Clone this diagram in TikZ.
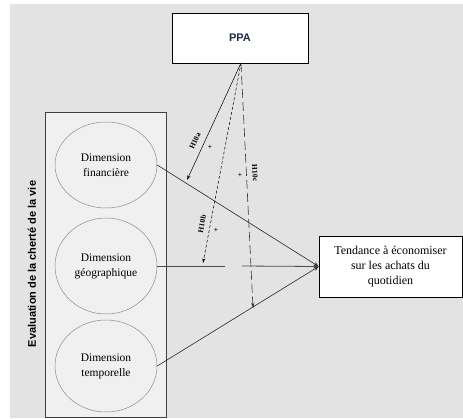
\documentclass[tikz,border=0pt]{standalone}
\usepackage{fontspec}
\setmainfont{Liberation Serif}
\setsansfont{Liberation Sans}
\usetikzlibrary{arrows.meta,shapes.geometric}
\definecolor{bggray}{HTML}{E3E3E3}
\definecolor{panelgray}{HTML}{F0F0F0}
\definecolor{ppablue}{HTML}{1F2A44}
\tikzset{
  boxnode/.style={draw=black, fill=white, line width=0.7pt, inner sep=0pt},
  dimnode/.style={ellipse, draw=black!45, fill=panelgray, line width=0.5pt, minimum width=102pt, align=center, font=\fontsize{11.5}{15}\selectfont, inner sep=0pt},
  link/.style={draw=black!85, line width=0.6pt, -{Stealth[length=5pt,width=4pt]}},
  modsolid/.style={draw=black, line width=0.5pt, -{Stealth[length=5pt,width=3pt]}},
  moddash/.style={draw=black, line width=0.5pt, dash pattern=on 3pt off 2pt, -{Stealth[length=5pt,width=3pt]}},
  modlong/.style={draw=black!80, line width=0.6pt, dash pattern=on 9pt off 4pt, -{Stealth[length=5pt,width=3pt]}},
  hlab/.style={font=\bfseries\fontsize{7.5}{7.5}\selectfont, inner sep=0pt},
  plab/.style={font=\bfseries\fontsize{7.5}{7.5}\selectfont, inner sep=0pt},
}
\begin{document}
\begin{tikzpicture}[x=1pt,y=-1pt]
\useasboundingbox (0,0) rectangle (463,418);
\fill[bggray] (10,4) rectangle (463,418);
% PPA box
\node[boxnode, minimum width=136pt, minimum height=50pt, font=\sffamily\bfseries\fontsize{11}{13}\selectfont, text=ppablue] (ppa) at (240,38) {PPA};
% left panel
\node[draw=black!75, fill=panelgray, line width=0.6pt, minimum width=121pt, minimum height=305pt, inner sep=0pt] (panel) at (105.5,264.5) {};
\node[font=\sffamily\bfseries\fontsize{11}{13}\selectfont, rotate=90] (evl) at (32,264) {Evaluation de la cherté de la vie};
% ellipses
\node[dimnode, minimum height=86pt] (e1) at (106,165) {Dimension\\financière};
\node[dimnode, minimum height=96pt] (e2) at (106,266) {Dimension\\géographique};
\node[dimnode, minimum height=92pt] (e3) at (106,366) {Dimension\\temporelle};
% Tendance box
\node[boxnode, minimum width=143pt, minimum height=61pt, align=center, font=\fontsize{12}{15}\selectfont] (t) at (390.5,266.5) {Tendance à économiser\\sur les achats du\\quotidien};
% main links
\coordinate (g1) at (225,266);
\coordinate (g2) at (242,266);
\draw[link] (e1.east) -- (t.west);
\draw[link] (e3.east) -- (t.west);
\draw[draw=black!70, line width=0.8pt] (e2.east) -- (g1);
\draw[link, draw=black!70, line width=0.8pt] (g2) -- (t.west);
% moderation arrows
\coordinate (p) at (241,63);
\coordinate (ma) at (187,180);
\coordinate (mb) at (203,263);
\coordinate (mc) at (253,308);
\draw[modsolid] (p) -- (ma);
\draw[moddash] (p) -- (mb);
\draw[modlong] (p) -- (mc);
% labels
\node[hlab, rotate=65] (la) at (195,141) {H10a};
\node[plab] (pa) at (210,147) {+};
\node[hlab, rotate=79] (lb) at (202,224) {H10b};
\node[plab] (pb) at (216,230) {+};
\node[hlab, rotate=-87] (lc) at (255,173) {H10c};
\node[plab] (pc) at (240,175) {+};
\end{tikzpicture}
\end{document}
